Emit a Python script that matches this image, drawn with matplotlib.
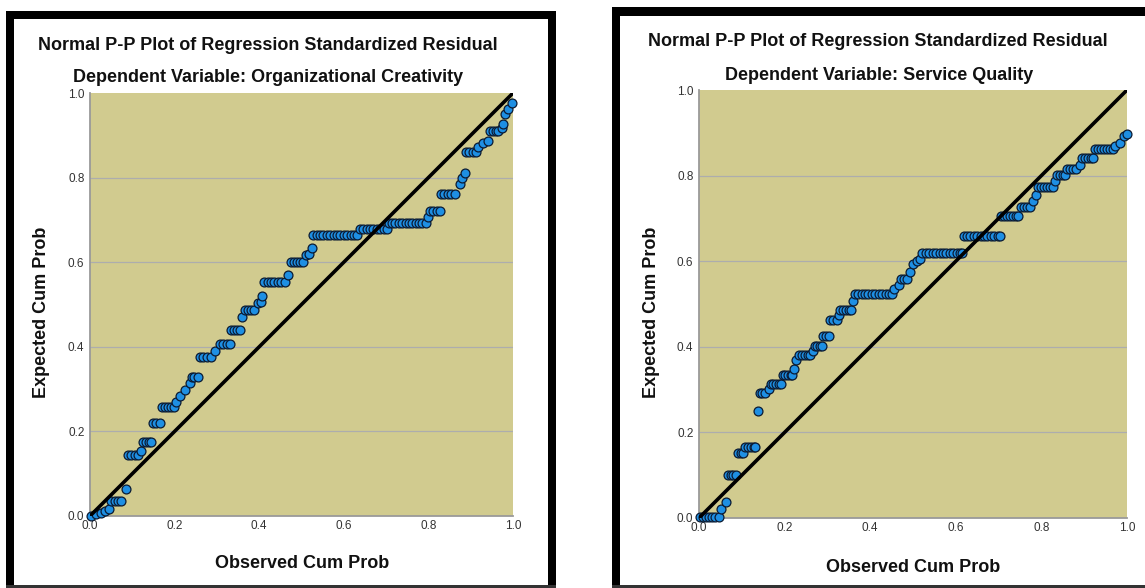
import matplotlib
matplotlib.use("Agg")
import matplotlib.pyplot as plt
from matplotlib.patches import Rectangle

W, H = 1145, 588

# ---------------- data ----------------
titles = ["Normal P-P Plot of Regression Standardized Residual",
          "Normal P-P Plot of Regression Standardized Residual"]
subtitles = ["Dependent Variable: Organizational Creativity",
             "Dependent Variable: Service Quality"]
xlabel = "Observed Cum Prob"
ylabel = "Expected Cum Prob"
tick_values = [0.0, 0.2, 0.4, 0.6, 0.8, 1.0]
tick_labels = ["0.0", "0.2", "0.4", "0.6", "0.8", "1.0"]

# Left chart: Organizational Creativity (observed, expected)
oc_obs = [0.003, 0.015, 0.025, 0.035, 0.044,
          0.050, 0.058, 0.066, 0.074,
          0.086,
          0.090, 0.098, 0.106, 0.113,
          0.121,
          0.125, 0.132, 0.139, 0.145,
          0.150, 0.157, 0.165,
          0.170, 0.177, 0.184, 0.191, 0.199,
          0.204, 0.212, 0.224, 0.236,
          0.240, 0.247, 0.255,
          0.260, 0.268, 0.276, 0.285,
          0.295,
          0.307, 0.315, 0.323, 0.330,
          0.334, 0.341, 0.348, 0.354,
          0.359,
          0.366, 0.373, 0.380, 0.387,
          0.396, 0.404, 0.407,
          0.412, 0.420, 0.428, 0.436, 0.444, 0.452, 0.460,
          0.468,
          0.474, 0.482, 0.490, 0.497, 0.504,
          0.511, 0.518, 0.526,
          0.528, 0.536, 0.544, 0.552, 0.560, 0.568, 0.576, 0.584, 0.592, 0.600, 0.608, 0.616, 0.624, 0.632,
          0.638, 0.646, 0.654, 0.662, 0.670, 0.678, 0.686, 0.694, 0.702,
          0.706, 0.714, 0.722, 0.730, 0.738, 0.746, 0.754, 0.762, 0.770, 0.778, 0.786, 0.794,
          0.800,
          0.804, 0.812, 0.820, 0.827,
          0.830, 0.838, 0.846, 0.854, 0.862,
          0.875, 0.880, 0.886,
          0.889, 0.897, 0.905, 0.913,
          0.918, 0.930, 0.942,
          0.946, 0.953, 0.960, 0.965,
          0.973, 0.977, 0.981, 0.987, 0.997]
oc_exp = [0.001, 0.004, 0.008, 0.013, 0.017,
          0.036, 0.036, 0.036, 0.036,
          0.065,
          0.144, 0.144, 0.144, 0.144,
          0.154,
          0.174, 0.174, 0.174, 0.174,
          0.220, 0.220, 0.220,
          0.258, 0.258, 0.258, 0.258, 0.258,
          0.270, 0.284, 0.299, 0.314,
          0.329, 0.329, 0.329,
          0.375, 0.375, 0.375, 0.375,
          0.391,
          0.406, 0.406, 0.406, 0.406,
          0.439, 0.439, 0.439, 0.439,
          0.471,
          0.487, 0.487, 0.487, 0.487,
          0.503, 0.506, 0.521,
          0.553, 0.553, 0.553, 0.553, 0.553, 0.553, 0.553,
          0.569,
          0.600, 0.600, 0.600, 0.600, 0.600,
          0.617, 0.619, 0.634,
          0.664, 0.664, 0.664, 0.664, 0.664, 0.664, 0.664, 0.664, 0.664, 0.664, 0.664, 0.664, 0.664, 0.664,
          0.678, 0.678, 0.678, 0.678, 0.678, 0.678, 0.678, 0.678, 0.678,
          0.693, 0.693, 0.693, 0.693, 0.693, 0.693, 0.693, 0.693, 0.693, 0.693, 0.693, 0.693,
          0.707,
          0.722, 0.722, 0.722, 0.722,
          0.761, 0.761, 0.761, 0.761, 0.761,
          0.784, 0.798, 0.811,
          0.861, 0.861, 0.861, 0.861,
          0.873, 0.881, 0.887,
          0.909, 0.909, 0.909, 0.909,
          0.917, 0.927, 0.950, 0.962, 0.977]

# Right chart: Service Quality (observed, expected)
sq_obs = [0.003, 0.010, 0.017, 0.024, 0.031, 0.038, 0.046,
          0.051, 0.064,
          0.067, 0.074, 0.080, 0.087,
          0.090, 0.097, 0.103,
          0.108, 0.115, 0.122, 0.129, 0.132,
          0.137,
          0.142, 0.148, 0.155,
          0.163,
          0.168, 0.174, 0.180, 0.186, 0.192,
          0.196, 0.202, 0.208, 0.214, 0.217,
          0.221, 0.227,
          0.233, 0.240, 0.247, 0.254, 0.260,
          0.266,
          0.270, 0.276, 0.282, 0.287,
          0.290, 0.296, 0.303,
          0.307, 0.314, 0.322,
          0.326,
          0.330, 0.337, 0.344, 0.351, 0.356,
          0.360,
          0.364, 0.372, 0.380, 0.388, 0.396, 0.404, 0.412, 0.420, 0.428, 0.436, 0.444, 0.451,
          0.455, 0.467,
          0.472, 0.479, 0.485,
          0.493, 0.501, 0.509, 0.516,
          0.522, 0.530, 0.538, 0.546, 0.554, 0.562, 0.570, 0.578, 0.586, 0.594, 0.602, 0.610, 0.614,
          0.618, 0.626, 0.634, 0.642, 0.650, 0.658, 0.666, 0.674, 0.682, 0.690, 0.698, 0.703,
          0.706, 0.713, 0.720, 0.727, 0.734, 0.741, 0.746,
          0.752, 0.759, 0.766, 0.773,
          0.780, 0.787,
          0.791, 0.798, 0.805, 0.812, 0.819, 0.828,
          0.832,
          0.836, 0.843, 0.850, 0.855,
          0.859, 0.866, 0.873, 0.880,
          0.890,
          0.896, 0.903, 0.910, 0.917, 0.921,
          0.925, 0.932, 0.939, 0.946, 0.953, 0.960, 0.968,
          0.972, 0.984, 0.992, 0.999]
sq_exp = [0.003, 0.003, 0.003, 0.003, 0.003, 0.003, 0.003,
          0.022, 0.038,
          0.100, 0.100, 0.100, 0.100,
          0.151, 0.151, 0.151,
          0.165, 0.165, 0.165, 0.165, 0.165,
          0.250,
          0.293, 0.293, 0.293,
          0.301,
          0.313, 0.313, 0.313, 0.313, 0.313,
          0.333, 0.333, 0.333, 0.333, 0.333,
          0.347, 0.368,
          0.382, 0.382, 0.382, 0.382, 0.382,
          0.390,
          0.403, 0.403, 0.403, 0.403,
          0.425, 0.425, 0.425,
          0.462, 0.462, 0.462,
          0.474,
          0.486, 0.486, 0.486, 0.486, 0.486,
          0.507,
          0.523, 0.523, 0.523, 0.523, 0.523, 0.523, 0.523, 0.523, 0.523, 0.523, 0.523, 0.523,
          0.535, 0.545,
          0.559, 0.559, 0.559,
          0.575, 0.593, 0.601, 0.604,
          0.618, 0.618, 0.618, 0.618, 0.618, 0.618, 0.618, 0.618, 0.618, 0.618, 0.618, 0.618, 0.618,
          0.660, 0.660, 0.660, 0.660, 0.660, 0.660, 0.660, 0.660, 0.660, 0.660, 0.660, 0.660,
          0.706, 0.706, 0.706, 0.706, 0.706, 0.706, 0.706,
          0.726, 0.726, 0.726, 0.726,
          0.740, 0.755,
          0.773, 0.773, 0.773, 0.773, 0.773, 0.773,
          0.787,
          0.801, 0.801, 0.801, 0.801,
          0.815, 0.815, 0.815, 0.815,
          0.825,
          0.840, 0.840, 0.840, 0.840, 0.840,
          0.861, 0.861, 0.861, 0.861, 0.861, 0.861, 0.861,
          0.868, 0.876, 0.892, 0.898]

# ---------------- styling ----------------
FONT = "Liberation Sans"
PLOT_BG = "#D1CB8F"
GRID = "#ADADAD"
MFACE = "#1E8FE3"
MEDGE = "#0B1B33"

fig = plt.figure(figsize=(W / 100, H / 100), dpi=100)
fig.patch.set_facecolor("white")


def fx(px):
    return px / W


def fy(py):
    return 1 - py / H


def box(x0, y0, x1, y1, color):
    fig.add_artist(Rectangle((fx(x0), fy(y1)), fx(x1) - fx(x0), fy(y0) - fy(y1),
                             transform=fig.transFigure, facecolor=color,
                             edgecolor="none", zorder=0))


# panel frames
box(6, 11, 556, 19, "black")
box(6, 11, 14, 588, "black")
box(548, 11, 556, 588, "black")
box(6, 585, 556, 588, "#333333")

box(612, 7, 1145, 16, "black")
box(612, 7, 620, 588, "black")
box(612, 585, 1145, 588, "#333333")

panels = [
    dict(rect=(90, 93, 513, 516), obs=oc_obs, exp=oc_exp, title=titles[0], sub=subtitles[0],
         ty=45, sy=78, xly=563, yx=42),
    dict(rect=(699, 90, 1127, 518), obs=sq_obs, exp=sq_exp, title=titles[1], sub=subtitles[1],
         ty=41, sy=75, xly=567, yx=652),
]

for p in panels:
    x0, y0, x1, y1 = p["rect"]
    ax = fig.add_axes([fx(x0), fy(y1), fx(x1) - fx(x0), fy(y0) - fy(y1)])
    ax.set_facecolor(PLOT_BG)
    ax.set_xlim(0, 1)
    ax.set_ylim(0, 1)
    for s in ["top", "right"]:
        ax.spines[s].set_visible(False)
    for s in ["left", "bottom"]:
        ax.spines[s].set_color("#9A9A9A")
        ax.spines[s].set_linewidth(1.3)
    ax.set_xticks(tick_values)
    ax.set_xticklabels(tick_labels)
    ax.set_yticks(tick_values)
    ax.set_yticklabels(tick_labels)
    ax.tick_params(length=0, labelsize=8.5, labelcolor="#333333")
    ax.tick_params(axis="x", pad=3)
    ax.tick_params(axis="y", pad=4)
    for lab in ax.get_xticklabels() + ax.get_yticklabels():
        lab.set_fontfamily(FONT)
    for v in tick_values[1:-1]:
        ax.axhline(v, color=GRID, lw=0.9, zorder=1)
    ax.plot(p["obs"], p["exp"], ls="none", marker="o", markersize=6.4,
            markerfacecolor=MFACE, markeredgecolor=MEDGE, markeredgewidth=0.9,
            zorder=3, clip_on=False)
    ax.plot([0, 1], [0, 1], color="black", lw=2.6, zorder=4, solid_capstyle="butt")

    cx = (x0 + x1) / 2
    fig.text(fx(268 if x0 < 600 else 878), fy(p["ty"]), p["title"], ha="center", va="center",
             fontsize=13, fontweight="bold", family=FONT, color="#111111")
    fig.text(fx(268 if x0 < 600 else 879), fy(p["sy"]), p["sub"], ha="center", va="center",
             fontsize=13, fontweight="bold", family=FONT, color="#111111")
    fig.text(fx(302 if x0 < 600 else 913), fy(p["xly"]), xlabel, ha="center", va="center",
             fontsize=13, fontweight="bold", family=FONT, color="#111111")
    fig.text(fx(p["yx"]), fy(312), ylabel, ha="center", va="center", rotation=90,
             fontsize=13, fontweight="bold", family=FONT, color="#111111")

fig.savefig("out.png", dpi=100, facecolor="white")
